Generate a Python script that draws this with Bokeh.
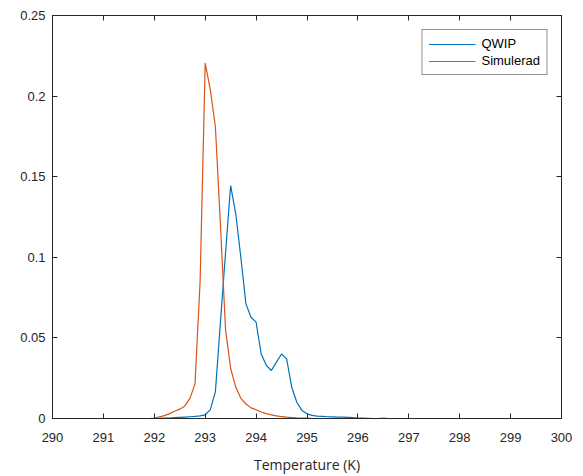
from bokeh.plotting import figure
from bokeh.models import LinearAxis, FixedTicker, Range1d, Legend, LegendItem
from bokeh.embed import file_html
from bokeh.resources import INLINE

# Temperature grid (K), 0.1 K bins from 290.0 to 300.0
temperature = [round(290 + 0.1 * i, 1) for i in range(101)]

# QWIP measured distribution
qwip = [
    0, 0, 0, 0, 0, 0, 0, 0, 0, 0,                                   # 290.0-290.9
    0, 0, 0, 0, 0, 0, 0, 0, 0, 0,                                   # 291.0-291.9
    0, 0.0001, 0.0002, 0.0003, 0.0005, 0.0007, 0.0009, 0.0011, 0.0013, 0.0016,  # 292
    0.0022, 0.0055, 0.0165, 0.060, 0.103, 0.1445, 0.127, 0.100, 0.0711, 0.0628,  # 293
    0.0598, 0.040, 0.033, 0.0298, 0.035, 0.040, 0.037, 0.0194, 0.0101, 0.005,     # 294
    0.0029, 0.0019, 0.0015, 0.0013, 0.0011, 0.0010, 0.0009, 0.0008, 0.0007, 0.0005,  # 295
    0.0003, 0.0002, 0.0001, 0, 0, 0, 0, 0, 0, 0,                    # 296
    0, 0, 0, 0, 0, 0, 0, 0, 0, 0,                                   # 297
    0, 0, 0, 0, 0, 0, 0, 0, 0, 0,                                   # 298
    0, 0, 0, 0, 0, 0, 0, 0, 0, 0,                                   # 299
    0,                                                              # 300.0
]

# Simulated distribution
simulerad = [
    0, 0, 0, 0, 0, 0, 0, 0, 0, 0,                                   # 290
    0, 0, 0, 0, 0, 0, 0, 0, 0, 0,                                   # 291
    0.0003, 0.001, 0.0018, 0.003, 0.0045, 0.0058, 0.0078, 0.0125, 0.0215, 0.085,  # 292
    0.2205, 0.204, 0.181, 0.120, 0.055, 0.031, 0.0195, 0.0125, 0.009, 0.0066,    # 293
    0.0054, 0.004, 0.003, 0.0022, 0.0016, 0.0012, 0.0008, 0.0006, 0.0004, 0.0003,  # 294
    0.0002, 0, 0, 0, 0, 0, 0, 0, 0, 0,                              # 295
    0, 0, 0, 0, 0, 0.0002, 0, 0, 0, 0,                              # 296
    0, 0, 0, 0, 0, 0, 0, 0, 0, 0,                                   # 297
    0, 0, 0, 0, 0, 0, 0, 0, 0, 0,                                   # 298
    0, 0, 0, 0, 0, 0, 0, 0, 0, 0,                                   # 299
    0,                                                              # 300
]

x_ticks = [290, 291, 292, 293, 294, 295, 296, 297, 298, 299, 300]
y_ticks = [0, 0.05, 0.1, 0.15, 0.2, 0.25]
y_tick_labels = {0: "0", 0.05: "0.05", 0.1: "0.1", 0.15: "0.15", 0.2: "0.2", 0.25: "0.25"}

BLUE = "#0072BD"
ORANGE = "#D95319"
AX = "#262626"
TICK_FONT = "Liberation Sans"

p = figure(width=583, height=476, output_backend="svg", toolbar_location=None,
           x_range=Range1d(290, 300), y_range=Range1d(0, 0.25))
p.min_border_left = 52
p.min_border_right = 22
p.min_border_top = 15
p.min_border_bottom = 58
p.xgrid.visible = False
p.ygrid.visible = False
p.outline_line_color = AX
p.outline_line_width = 1
p.background_fill_color = "white"
p.border_fill_color = "white"

r1 = p.line(temperature, qwip, line_color=BLUE, line_width=1.2)
r2 = p.line(temperature, simulerad, line_color=ORANGE, line_width=1.2)

def style_axis(ax, ticks, show_labels=True):
    ax.ticker = FixedTicker(ticks=ticks)
    ax.minor_tick_line_color = None
    ax.major_tick_in = 5
    ax.major_tick_out = 0
    ax.axis_line_color = AX
    ax.major_tick_line_color = AX
    ax.major_label_text_color = AX
    ax.major_label_text_font = TICK_FONT
    ax.major_label_text_font_size = "13px"
    if not show_labels:
        ax.major_label_text_color = None
        ax.major_label_standoff = 0

xa = p.xaxis[0]
style_axis(xa, x_ticks)
xa.major_label_standoff = 14
xa.axis_label = "Temperature (K)"
xa.axis_label_text_font = "Open Sans"
xa.axis_label_text_font_style = "normal"
xa.axis_label_text_font_size = "14px"
xa.axis_label_text_color = AX
xa.axis_label_standoff = 10

ya = p.yaxis[0]
style_axis(ya, y_ticks)
ya.major_label_overrides = y_tick_labels
ya.major_label_standoff = 7

top = LinearAxis()
style_axis(top, x_ticks, show_labels=False)
p.add_layout(top, "above")
right = LinearAxis()
style_axis(right, y_ticks, show_labels=False)
p.add_layout(right, "right")

legend = Legend(items=[LegendItem(label="QWIP", renderers=[r1]),
                       LegendItem(label="Simulerad", renderers=[r2])],
                location="top_right")
legend.margin = 14
legend.padding = 6
legend.spacing = 2
legend.glyph_width = 47
legend.glyph_height = 14
legend.label_height = 14
legend.label_standoff = 6
legend.label_text_font = TICK_FONT
legend.label_text_font_size = "13px"
legend.label_text_color = "#000000"
legend.border_line_color = AX
legend.border_line_width = 1
legend.background_fill_color = "white"
legend.background_fill_alpha = 1
p.add_layout(legend, "center")

open("out.html", "w").write(file_html(p, INLINE))
